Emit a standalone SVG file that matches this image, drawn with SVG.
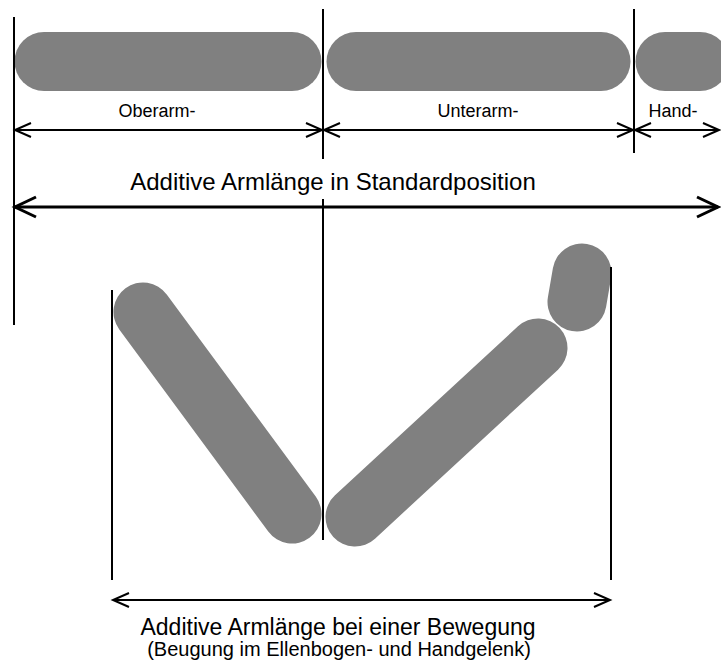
<svg xmlns="http://www.w3.org/2000/svg" width="721" height="666" viewBox="0 0 721 666">
<style>
.seg{stroke:#808080;stroke-width:59;stroke-linecap:round;fill:none}
.ref{stroke:#000;stroke-width:2;fill:none}
.dim{stroke:#000;stroke-width:2;fill:none;marker-start:url(#a);marker-end:url(#a)}
.big{stroke:#000;stroke-width:3;fill:none;marker-start:url(#b);marker-end:url(#b)}
text{font-family:"Liberation Sans",Arial,sans-serif;fill:#000;text-anchor:middle}
</style>
<defs>
<marker id="a" viewBox="-18 -9 20 18" markerWidth="20" markerHeight="18" refX="0" refY="0" orient="auto-start-reverse" markerUnits="userSpaceOnUse" overflow="visible">
<path d="M-16,-7 L0,0 L-16,7" fill="none" stroke="#000" stroke-width="2"/>
</marker>
<marker id="b" viewBox="-24 -12 26 24" markerWidth="26" markerHeight="24" refX="0" refY="0" orient="auto-start-reverse" markerUnits="userSpaceOnUse" overflow="visible">
<path d="M-21,-10 L0,0 L-21,10" fill="none" stroke="#000" stroke-width="3"/>
</marker>
</defs>
<g id="oberarm"><line class="seg" x1="44" y1="61.5" x2="292" y2="61.5"/></g>
<g id="unterarm"><line class="seg" x1="356" y1="61.5" x2="601" y2="61.5"/></g>
<g id="hand"><line class="seg" x1="665" y1="61.5" x2="700" y2="61.5"/></g>
<g id="oberarm-gebeugt"><line class="seg" x1="143" y1="312" x2="292" y2="514"/></g>
<g id="unterarm-gebeugt"><line class="seg" x1="355" y1="517" x2="538" y2="348"/></g>
<g id="hand-gebeugt"><line class="seg" x1="582" y1="273" x2="577" y2="302"/></g>
<g id="connectors">
<line class="ref" x1="14" y1="17" x2="14" y2="325"/>
<line class="ref" x1="323" y1="9" x2="323" y2="159"/>
<line class="ref" x1="323" y1="199" x2="323" y2="540"/>
<line class="ref" x1="634" y1="9" x2="634" y2="153"/>
<line class="ref" x1="112" y1="290" x2="112" y2="580"/>
<line class="ref" x1="611" y1="267" x2="611" y2="580"/>
<line class="dim" x1="15" y1="130" x2="322" y2="130"/>
<line class="dim" x1="324" y1="130" x2="633" y2="130"/>
<line class="dim" x1="635" y1="130" x2="719" y2="130"/>
<line class="big" x1="15" y1="207" x2="718" y2="207"/>
<line class="dim" x1="113" y1="600" x2="610" y2="600"/>
</g>
<g id="labels">
<text x="157" y="117" font-size="18">Oberarm-</text>
<text x="478" y="117" font-size="18">Unterarm-</text>
<text x="673" y="117" font-size="18">Hand-</text>
<text x="333" y="190" font-size="24">Additive Armlänge in Standardposition</text>
<text x="338" y="635" font-size="23">Additive Armlänge bei einer Bewegung</text>
<text x="339" y="656" font-size="20">(Beugung im Ellenbogen- und Handgelenk)</text>
</g>
</svg>
